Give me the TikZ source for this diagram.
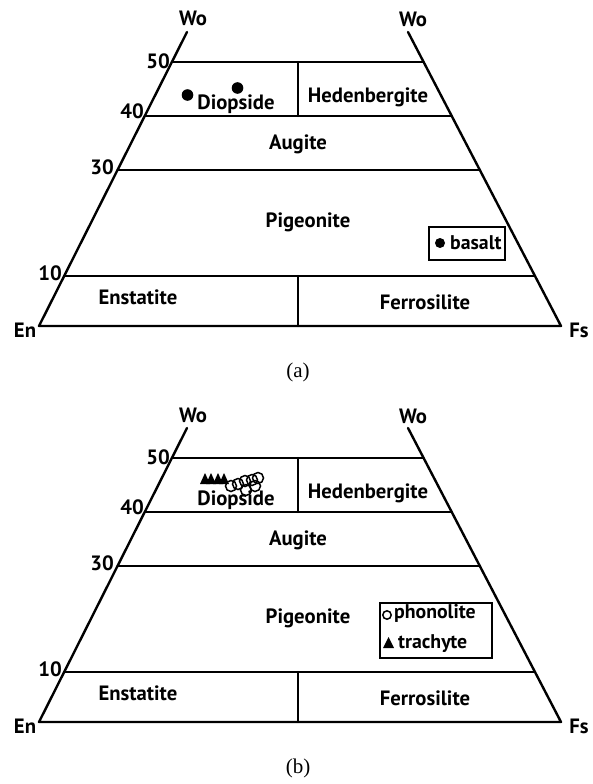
\documentclass[tikz,border=0pt]{standalone}
\usepackage{fontspec}
\setmainfont{PT Sans}
\newfontfamily\capfont{Liberation Serif}
\usetikzlibrary{calc}
\tikzset{
  frame/.style={line width=2.4pt, line cap=round, line join=round},
  lab/.style={font=\fontsize{20.7}{22}\selectfont\bfseries, inner sep=0pt, anchor=base},
  num/.style={font=\fontsize{20.7}{22}\selectfont\bfseries, inner sep=0pt, anchor=base},
  legtxt/.style={font=\fontsize{19.8}{21}\selectfont\bfseries, inner sep=0pt, anchor=base west},
  captxt/.style={font=\capfont\fontsize{21}{23}\selectfont, inner sep=0pt},
  legbox/.style={line width=1.8pt},
  ring/.style={line width=1.5pt},
}
\newcommand\pyxpanel[3]{%
\begin{scope}[shift={(0,#2)}]
  \coordinate (TL#1) at (187,32);
  \coordinate (TR#1) at (408,32);
  \coordinate (BL#1) at (39,326);
  \coordinate (BR#1) at (561,326);
  \coordinate (La#1) at ($(TL#1)!30/294!(BL#1)$);
  \coordinate (Ra#1) at ($(TR#1)!30/294!(BR#1)$);
  \coordinate (Lb#1) at ($(TL#1)!84/294!(BL#1)$);
  \coordinate (Rb#1) at ($(TR#1)!84/294!(BR#1)$);
  \coordinate (Lc#1) at ($(TL#1)!138/294!(BL#1)$);
  \coordinate (Rc#1) at ($(TR#1)!138/294!(BR#1)$);
  \coordinate (Ld#1) at ($(TL#1)!244/294!(BL#1)$);
  \coordinate (Rd#1) at ($(TR#1)!244/294!(BR#1)$);
  \coordinate (Da#1) at (298,62);
  \coordinate (Db#1) at (298,116);
  \coordinate (Dc#1) at (298,276);
  \coordinate (Dd#1) at (298,326);
  \draw[frame] (TL#1) -- (BL#1) -- (BR#1) -- (TR#1);
  \draw[frame] (La#1) -- (Ra#1);
  \draw[frame] (Lb#1) -- (Rb#1);
  \draw[frame] (Lc#1) -- (Rc#1);
  \draw[frame] (Ld#1) -- (Rd#1);
  \draw[frame] (Da#1) -- (Db#1);
  \draw[frame] (Dc#1) -- (Dd#1);
  \node[lab] (woL#1) at (193,26) {Wo};
  \node[lab] (woR#1) at (413,27) {Wo};
  \node[num] (n50#1) at (158,68) {50};
  \node[num] (n40#1) at (132,118) {40};
  \node[num] (n30#1) at (102,174) {30};
  \node[num] (n10#1) at (50,280) {10};
  \node[lab] (en#1) at (25,337) {En};
  \node[lab] (fs#1) at (579,337) {Fs};
  \node[lab] (di#1) at (236,109) {Diopside};
  \node[lab] (he#1) at (368,102) {Hedenbergite};
  \node[lab] (au#1) at (298,149) {Augite};
  \node[lab] (pi#1) at (308,227) {Pigeonite};
  \node[lab] (es#1) at (138,304) {Enstatite};
  \node[lab] (fe#1) at (425,309) {Ferrosilite};
  \node[captxt] (cap#1) at (298,372) {#3};
\end{scope}}
\begin{document}
\begin{tikzpicture}[x=1pt,y=-1pt]
\useasboundingbox (0,0) rectangle (592,784);
\pyxpanel{A}{0}{(a)}
\pyxpanel{B}{396}{(b)}
% panel (a) data
\fill (187.5,95) circle (5.8);
\fill (237.5,88) circle (5.8);
\draw[legbox] (429,227) rectangle (505,260);
\fill (440,243) circle (5);
\node[legtxt] (basalt) at (450,249) {basalt};
% panel (b) data
\foreach \x in {205,211,218,224} {
  \fill (\x-5,484) -- (\x,473) -- (\x+5,484) -- cycle;
}
\foreach \p in {(231,486),(238,484),(245,481),(252,480),(258,478),(246,490),(255,486)} {
  \draw[ring] \p circle (5.5);
}
\draw[legbox] (380,603) rectangle (492,658);
\draw[ring] (387,615) circle (4.2);
\node[legtxt] (phono) at (394,618) {phonolite};
\fill (383,648) -- (388.5,637) -- (394,648) -- cycle;
\node[legtxt] (trach) at (398,648) {trachyte};
\end{tikzpicture}
\end{document}
